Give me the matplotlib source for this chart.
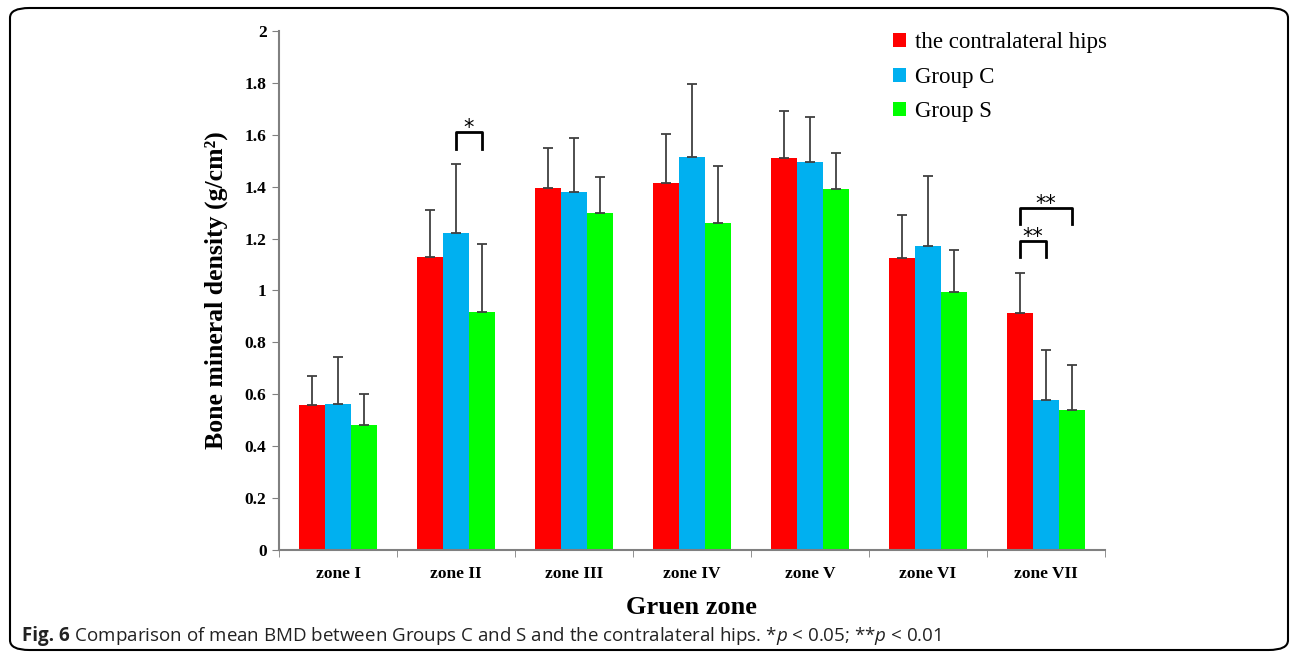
import numpy as np
import matplotlib.pyplot as plt
from matplotlib.patches import FancyBboxPatch

plt.rcParams['mathtext.fontset'] = 'custom'
plt.rcParams['mathtext.rm'] = 'Open Sans'
plt.rcParams['mathtext.it'] = 'Open Sans:italic'
plt.rcParams['mathtext.bf'] = 'Open Sans:bold'

# DATA
zones = ['zone I', 'zone II', 'zone III', 'zone IV', 'zone V', 'zone VI', 'zone VII']
series = ['the contralateral hips', 'Group C', 'Group S']
contra = [0.56, 1.13, 1.395, 1.414, 1.51, 1.125, 0.913]
group_c = [0.563, 1.222, 1.38, 1.514, 1.495, 1.17, 0.578]
group_s = [0.48, 0.917, 1.297, 1.26, 1.39, 0.994, 0.54]
contra_err = [0.11, 0.18, 0.155, 0.189, 0.183, 0.166, 0.154]
group_c_err = [0.181, 0.265, 0.208, 0.282, 0.174, 0.27, 0.193]
group_s_err = [0.12, 0.263, 0.14, 0.22, 0.14, 0.162, 0.173]
colors = ['#ff0000', '#00b0f0', '#00ff00']

fig = plt.figure(figsize=(12.92, 6.53), dpi=100)
ax = fig.add_axes([0.216, 0.158, 0.639, 0.7945])

x = np.arange(len(zones))
w = 0.22
vals = [contra, group_c, group_s]
errs = [contra_err, group_c_err, group_s_err]
for i in range(3):
    ax.bar(x + (i - 1) * w, vals[i], w, color=colors[i], label=series[i],
           yerr=[np.zeros(len(zones)), errs[i]], capsize=3.5,
           error_kw=dict(ecolor='#404040', elinewidth=1.3, capthick=1.3))

ax.set_xlim(-0.5, len(zones) - 0.5)
ax.set_ylim(0, 2)
ax.set_yticks(np.arange(0, 2.01, 0.2))
ax.set_yticklabels(['0', '0.2', '0.4', '0.6', '0.8', '1', '1.2', '1.4', '1.6', '1.8', '2'])
ax.set_xticks(x)
ax.set_xticklabels(zones)
ax.set_xticks(np.arange(-0.5, len(zones)), minor=True)
ax.tick_params(axis='x', which='major', length=0, pad=12)
ax.tick_params(axis='x', which='minor', length=5, color='#808080')
ax.tick_params(axis='y', length=5, color='#808080', pad=4)
for lab in ax.get_xticklabels() + ax.get_yticklabels():
    lab.set_fontfamily('Liberation Serif')
    lab.set_fontweight('bold')
    lab.set_fontsize(12.5)
for s in ['top', 'right']:
    ax.spines[s].set_visible(False)
for s in ['left', 'bottom']:
    ax.spines[s].set_color('#808080')
    ax.spines[s].set_linewidth(1.5)

ax.set_ylabel('Bone mineral density (g/cm²)', fontfamily='Liberation Serif',
              fontweight='bold', fontsize=18.5, labelpad=12)
ax.set_xlabel('Gruen zone', fontfamily='Liberation Serif', fontweight='bold',
              fontsize=19, labelpad=10)

leg = ax.legend(loc='upper left', bbox_to_anchor=(893 / 1292, 1 - 32 / 653),
                bbox_transform=fig.transFigure, frameon=False, borderpad=0, borderaxespad=0,
                prop=dict(family='Liberation Serif', size=16.5),
                handlelength=0.55, handleheight=0.55, handletextpad=0.4, labelspacing=0.6)

# significance brackets
def bracket(x1, x2, y0, y1, text):
    ax.plot([x1, x1, x2, x2], [y0, y1, y1, y0], color='black', lw=2)
    ax.text((x1 + x2) / 2, y1 - 0.025, text, ha='center', va='bottom', fontsize=15,
            fontfamily='DejaVu Sans')

bracket(1, 1 + w, 1.545, 1.611, '*')
bracket(6 - w, 6, 1.129, 1.191, '**')
bracket(6 - w, 6 + w, 1.256, 1.318, '**')

# caption
cy = 1 - 641 / 653
t1 = fig.text(22 / 1292, cy, 'Fig. 6', fontsize=13.5, fontfamily='Open Sans',
              fontweight='bold', va='baseline', color='#222222')
r = fig.canvas.get_renderer()
x2 = t1.get_window_extent(r).x1 / fig.bbox.width
fig.text(x2, cy, r' Comparison of mean BMD between Groups C and S and the contralateral hips. *$p$ < 0.05; **$p$ < 0.01',
         fontsize=13.5, fontfamily='Open Sans', va='baseline', color='#222222')

border = FancyBboxPatch((10 / 1292, 3 / 653), 1278 / 1292, 642 / 653,
                        boxstyle='round,pad=0,rounding_size=0.015', transform=fig.transFigure,
                        fill=False, edgecolor='black', lw=1.5)
fig.patches.append(border)

fig.savefig('out.png', dpi=100)
